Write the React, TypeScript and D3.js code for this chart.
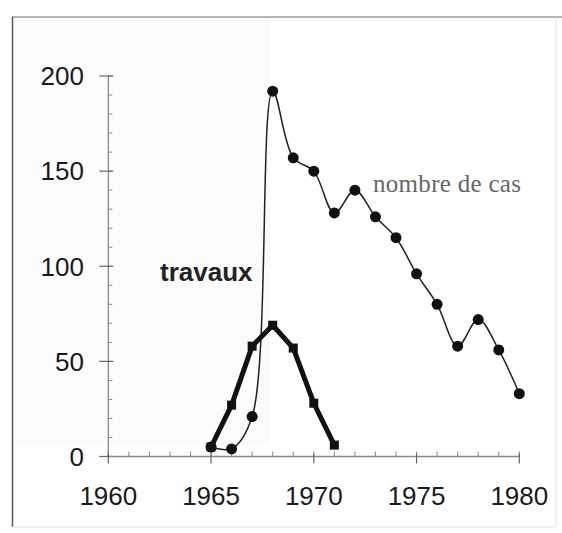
import React from "react";
import * as d3 from "d3";

const years = [1965, 1966, 1967, 1968, 1969, 1970, 1971, 1972, 1973, 1974, 1975, 1976, 1977, 1978, 1979, 1980];
const nombreDeCas = [5, 4, 21, 192, 157, 150, 128, 140, 126, 115, 96, 80, 58, 72, 56, 33];
const travauxYears = [1965, 1966, 1967, 1968, 1969, 1970, 1971];
const travaux = [5, 27, 58, 69, 57, 28, 6];
const xTicks = [1960, 1965, 1970, 1975, 1980];
const yTicks = [0, 50, 100, 150, 200];

const W = 562;
const H = 533;

export default function App() {
  const x = d3.scaleLinear().domain([1960, 1980]).range([108.3, 519.3]);
  const y = d3.scaleLinear().domain([0, 200]).range([456.5, 76]);

  const casPts: [number, number][] = years.map((yr, i) => [x(yr), y(nombreDeCas[i])]);
  const travPts: [number, number][] = travauxYears.map((yr, i) => [x(yr), y(travaux[i])]);

  const casLine = d3.line().curve(d3.curveCatmullRom.alpha(0.5))(casPts) || "";
  const travLine = d3.line()(travPts) || "";

  const minorY = d3.range(0, 201, 10);
  const minorX = d3.range(1960, 1981, 1);
  const axisColor = "#8a8a8a";

  return (
    <svg
      width={W}
      height={H}
      style={{ position: "absolute", left: 0, top: 0, background: "#ffffff" }}
      fontFamily="'Liberation Sans', Arial, sans-serif"
    >
      <rect x={14} y={18} width={256} height={428} fill="#fbfbfb" />
      {/* frame */}
      <line x1={12} y1={17} x2={562} y2={17} stroke="#9a9a9a" strokeWidth={1.5} />
      <line x1={12.5} y1={17} x2={12.5} y2={527} stroke="#555" strokeWidth={1.5} />
      <line x1={12} y1={527} x2={556} y2={527} stroke="#e4e4e4" strokeWidth={1} />
      <line x1={556} y1={17} x2={556} y2={527} stroke="#e0e0e0" strokeWidth={1} />

      {/* y axis */}
      <line x1={x(1960)} y1={y(200)} x2={x(1960)} y2={y(0)} stroke={axisColor} strokeWidth={1.3} />
      {minorY.map((v) => (
        <line key={"my" + v} x1={x(1960)} x2={x(1960) + 4} y1={y(v)} y2={y(v)} stroke={axisColor} strokeWidth={1} />
      ))}
      {yTicks.map((v) => (
        <g key={"yt" + v}>
          <line x1={x(1960) - 9} x2={x(1960) + 5} y1={y(v)} y2={y(v)} stroke="#666" strokeWidth={1.2} />
          <text x={84} y={y(v)} dy="0.36em" textAnchor="end" fontSize={26} fill="#1a1a1a">
            {v}
          </text>
        </g>
      ))}

      {/* x axis */}
      <line x1={x(1960)} y1={y(0)} x2={x(1980)} y2={y(0)} stroke={axisColor} strokeWidth={1.3} />
      {minorX.map((v) => (
        <line key={"mx" + v} x1={x(v)} x2={x(v)} y1={y(0) - 5} y2={y(0)} stroke={axisColor} strokeWidth={1} />
      ))}
      {xTicks.map((v) => (
        <g key={"xt" + v}>
          <line x1={x(v)} x2={x(v)} y1={y(0) - 3} y2={y(0) + 7} stroke="#666" strokeWidth={1.2} />
          <text x={x(v)} y={505} textAnchor="middle" fontSize={26} fill="#1a1a1a">
            {v}
          </text>
        </g>
      ))}

      {/* nombre de cas */}
      <path d={casLine} fill="none" stroke="#222" strokeWidth={1.5} />
      {casPts.map(([cx, cy], i) => (
        <circle key={"c" + i} cx={cx} cy={cy} r={5.5} fill="#111" />
      ))}

      {/* travaux */}
      <path d={travLine} fill="none" stroke="#111" strokeWidth={5} strokeLinejoin="round" />
      {travPts.map(([cx, cy], i) => (
        <rect key={"t" + i} x={cx - 4.5} y={cy - 4.5} width={9} height={9} fill="#111" />
      ))}

      {/* labels */}
      <text
        x={373}
        y={191.5}
        fontFamily="'Liberation Serif', 'Times New Roman', serif"
        fontSize={25}
        fill="#666"
        textLength={148}
        lengthAdjust="spacing"
      >
        nombre de cas
      </text>
      <text x={160} y={281} fontSize={26} fontWeight="bold" fill="#222">
        travaux
      </text>
    </svg>
  );
}
